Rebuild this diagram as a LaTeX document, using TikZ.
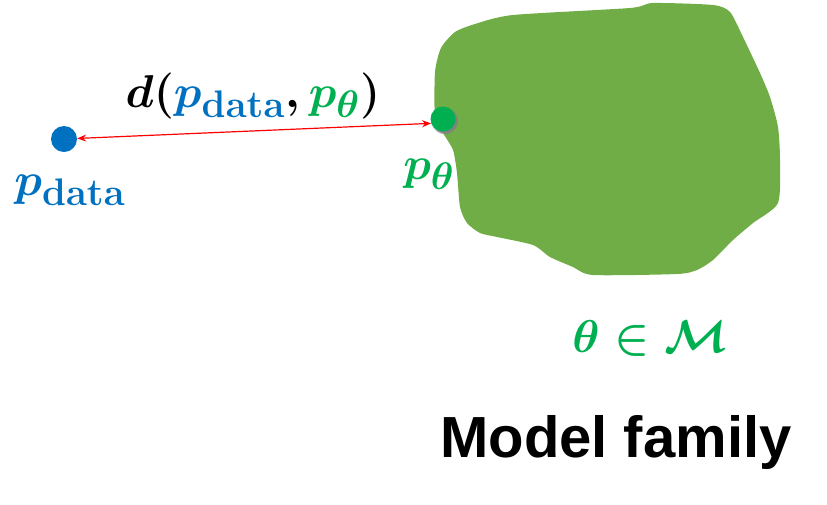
\documentclass[tikz,border=0pt]{standalone}
\usepackage{fontspec}
\newfontfamily\labelfont{Liberation Sans}
\usetikzlibrary{arrows.meta,shadows}
\definecolor{dataBlue}{RGB}{0,112,192}
\definecolor{modelGreen}{RGB}{0,176,80}
\definecolor{blobGreen}{RGB}{112,173,71}
\newcommand{\bigmath}[1]{\scalebox{1.85}{\fontsize{24.88}{30}\selectfont\boldmath$#1$}}
\tikzset{
  dot/.style={circle, inner sep=0pt, minimum size=25pt},
  mathlabel/.style={inner sep=0pt},
  distarrow/.style={red, line width=1.2pt, {Stealth[length=9pt,width=7pt]}-{Stealth[length=9pt,width=7pt]}}
}
\begin{document}
\begin{tikzpicture}[x=1pt, y=-1pt]  % 以像素为单位, y 轴向下

    \useasboundingbox (0,0) rectangle (827,504);

    % 绘制模型族区域
    \fill[blobGreen] plot[smooth cycle, tension=0.4] coordinates {
        (435,72) (441,48) (455,32) (475,24) (513,15) (630,8) (653,3) (713,5)
        (730,12) (743,37) (760,73) (770,97) (778,127) (780,160) (778,203)
        (753,223) (733,240) (713,260) (697,270) (677,274) (593,275) (573,267)
        (550,257) (533,245) (497,237) (480,233) (467,223) (460,207) (457,173)
        (453,150) (443,133) (435,117)};

    % 绘制两个点
    \node[dot, fill=dataBlue, minimum size=26pt] (pdata) at (64,139) {};
    \node[dot, fill=modelGreen, circular drop shadow={shadow xshift=1.5pt, shadow yshift=-1.5pt, shadow scale=1.1}] (ptheta) at (443,119) {};

    % 距离箭头
    \draw[distarrow] (pdata) -- (ptheta.200);

    % 标签
    \node[mathlabel, anchor=base] (dist) at (253,107) {\bigmath{d(\textcolor{dataBlue}{p_{\mathbf{data}}},\textcolor{modelGreen}{p_\theta})}};
    \node[mathlabel, text=dataBlue] (pdatalabel) at (70,190) {\bigmath{p_{\mathbf{data}}}};
    \node[mathlabel, text=modelGreen] (pthetalabel) at (429,174) {\bigmath{p_\theta}};
    \node[mathlabel, text=modelGreen] (param) at (650,338) {\bigmath{\theta\in\mathcal{M}}};
    \node[anchor=base, inner sep=0pt, font=\labelfont\bfseries\fontsize{58}{64}\selectfont] (family) at (616,457) {Model family};

\end{tikzpicture}
\end{document}
